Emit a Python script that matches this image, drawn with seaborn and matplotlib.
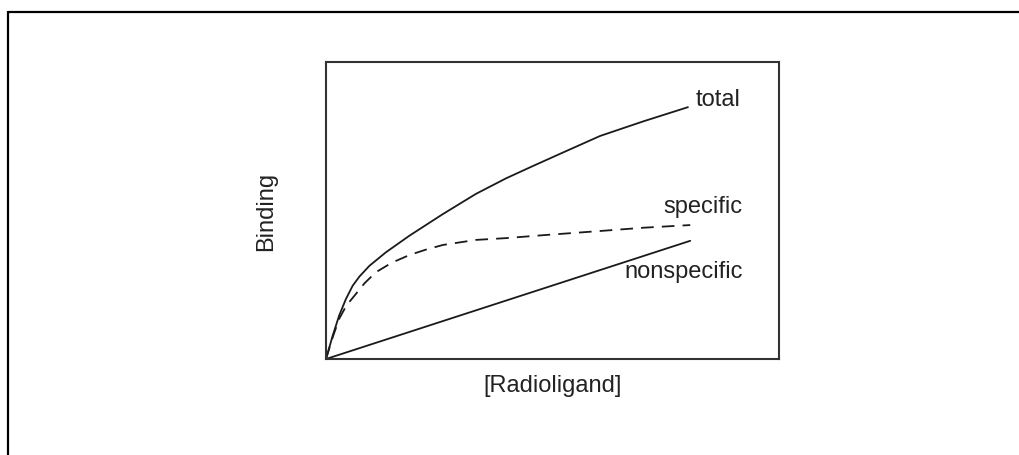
import numpy as np
import pandas as pd
import matplotlib
matplotlib.use("Agg")
import matplotlib.pyplot as plt
from matplotlib.lines import Line2D
import seaborn as sns

# --- data (arbitrary units) ---
total_x = [0, 0.147, 0.29, 0.44, 0.59, 0.74, 0.96, 1.32, 1.84, 2.58, 3.31,
           3.97, 4.57, 5.3, 6.05, 7.0, 7.99]
total_y = [0, 0.78, 1.46, 2.02, 2.47, 2.78, 3.14, 3.59, 4.15, 4.88, 5.56,
           6.08, 6.50, 7.0, 7.51, 8.0, 8.48]

specific_x = [0, 0.15, 0.29, 0.45, 0.66, 0.85, 1.10, 1.45, 1.84, 2.2, 2.58,
              3.31, 3.97, 4.8, 6.05, 7.0, 8.04]
specific_y = [0, 0.74, 1.35, 1.80, 2.19, 2.55, 2.92, 3.24, 3.50, 3.68, 3.84,
              4.01, 4.07, 4.17, 4.31, 4.42, 4.51]

nonspecific_x = [0, 8.04]
nonspecific_y = [0, 3.98]

sns.set_theme(style="white")
plt.rcParams["font.family"] = ["Liberation Sans", "DejaVu Sans"]

fig = plt.figure(figsize=(10.19, 4.56), dpi=100)
ax = fig.add_axes([0.3199, 0.2105, 0.4446, 0.6513])

df_total = pd.DataFrame({"x": total_x, "y": total_y})
df_spec = pd.DataFrame({"x": specific_x, "y": specific_y})
df_nons = pd.DataFrame({"x": nonspecific_x, "y": nonspecific_y})

sns.lineplot(data=df_total, x="x", y="y", ax=ax, color="#1a1a1a", lw=1.3,
             sort=False, estimator=None)
sns.lineplot(data=df_spec, x="x", y="y", ax=ax, color="#1a1a1a", lw=1.3,
             sort=False, estimator=None)
ax.lines[-1].set_dashes([7, 4.5])
sns.lineplot(data=df_nons, x="x", y="y", ax=ax, color="#1a1a1a", lw=1.3,
             sort=False, estimator=None)
for ln in ax.lines:
    ln.set_solid_joinstyle("round")
    ln.set_dash_joinstyle("round")

ax.set_xlim(0, 10)
ax.set_ylim(0, 10)
ax.set_xticks([])
ax.set_yticks([])
ax.set_xlabel("[Radioligand]", fontsize=17, color="#222222", labelpad=11)
ax.set_ylabel("Binding", fontsize=17, color="#222222", labelpad=35)
for sp in ax.spines.values():
    sp.set_visible(True)
    sp.set_color("#333333")
    sp.set_linewidth(1.5)

# curve labels
ax.text(8.15, 8.75, "total", fontsize=17, color="#222222", ha="left", va="center")
ax.text(9.2, 5.15, "specific", fontsize=17, color="#222222", ha="right", va="center")
ax.text(9.2, 2.95, "nonspecific", fontsize=17, color="#222222", ha="right", va="center")

# outer frame (only top and left are visible in the crop)
fx = 8 / 1019
fy = 1 - 13 / 456
fig.add_artist(Line2D([fx, 1.0], [fy, fy], transform=fig.transFigure,
                      color="black", lw=1.6))
fig.add_artist(Line2D([fx, fx], [0.0, fy], transform=fig.transFigure,
                      color="black", lw=1.6))

fig.savefig("out.png", dpi=100)
